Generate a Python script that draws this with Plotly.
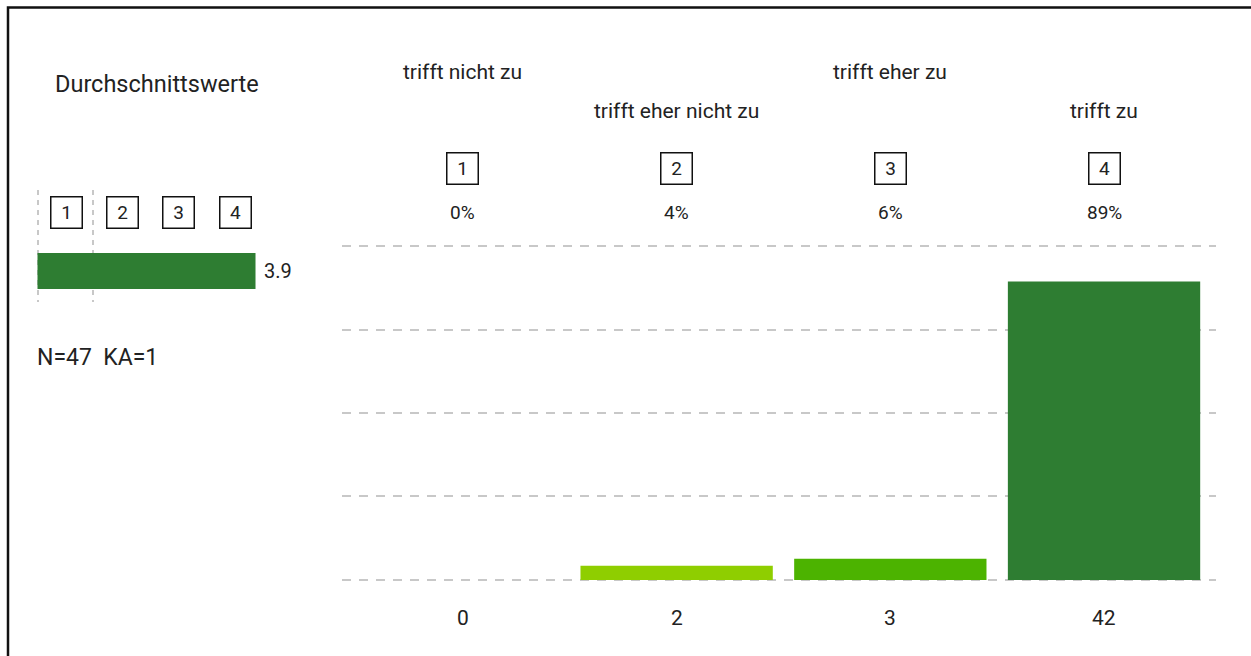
import plotly.graph_objects as go

# ---- data ----
categories = ["trifft nicht zu", "trifft eher nicht zu", "trifft eher zu", "trifft zu"]
scale_values = ["1", "2", "3", "4"]
counts = [0, 2, 3, 42]
bar_colors = ["#8fce00", "#8fce00", "#4cb300", "#2e7d32"]
mean_value = 3.9
mean_color = "#2e7d32"
n_total = 47
ka_count = 1

W, H = 1251, 656
FONT = "Roboto"
TXT = "#222222"
GRID = "#c8c8c8"


def py(p):
    return 1 - p / H


def px(p):
    return p / W


total = sum(counts)
percents = [c / total * 100 for c in counts]
percent_labels = [f"{round(p)}%" for p in percents]
xs = list(range(len(categories)))

fig = go.Figure()

# main distribution bars
fig.add_trace(go.Bar(
    x=xs, y=percents, width=0.9,
    marker=dict(color=bar_colors, line=dict(width=0)),
    xaxis="x", yaxis="y", hoverinfo="skip", showlegend=False,
))

# mean bar (left panel)
fig.add_trace(go.Bar(
    x=[mean_value], y=[0.277], width=0.321, orientation="h",
    marker=dict(color=mean_color, line=dict(width=0)),
    xaxis="x2", yaxis="y2", hoverinfo="skip", showlegend=False,
))

left_box_px = [66, 122, 178.5, 235.5]

ann = []
for i, lab in enumerate(categories):
    ann.append(dict(x=i, xref="x", y=py(72 if i % 2 == 0 else 111), yref="paper",
                    text=lab, showarrow=False, xanchor="center", yanchor="middle",
                    font=dict(family=FONT, size=21, color=TXT)))
    ann.append(dict(x=i, xref="x", y=py(168), yref="paper",
                    text=scale_values[i], showarrow=False, xanchor="center", yanchor="middle",
                    width=30, height=30, borderpad=0, bordercolor="#111", borderwidth=1.5,
                    font=dict(family=FONT, size=19, color=TXT)))
    ann.append(dict(x=i, xref="x", y=py(212), yref="paper",
                    text=percent_labels[i], showarrow=False, xanchor="center", yanchor="middle",
                    font=dict(family=FONT, size=19, color=TXT)))
    ann.append(dict(x=i, xref="x", y=py(618), yref="paper",
                    text=str(counts[i]), showarrow=False, xanchor="center", yanchor="middle",
                    font=dict(family=FONT, size=21, color=TXT)))
    ann.append(dict(x=px(left_box_px[i]), xref="paper", y=py(212), yref="paper",
                    text=scale_values[i], showarrow=False, xanchor="center", yanchor="middle",
                    width=30, height=30, borderpad=0, bordercolor="#111", borderwidth=1.5,
                    font=dict(family=FONT, size=19, color=TXT)))

ann.append(dict(x=mean_value, xref="x2", xshift=6, y=0.277, yref="y2",
                text=f"{mean_value:.1f}", showarrow=False, xanchor="left", yanchor="middle",
                font=dict(family=FONT, size=20, color=TXT)))
ann.append(dict(x=px(157), xref="paper", y=py(84), yref="paper", text="Durchschnittswerte",
                showarrow=False, xanchor="center", yanchor="middle",
                font=dict(family=FONT, size=23.5, color=TXT)))
ann.append(dict(x=px(35), xref="paper", y=py(357), yref="paper",
                text=f"N={n_total}&nbsp;&nbsp;KA={ka_count}",
                showarrow=False, xanchor="left", yanchor="middle",
                font=dict(family=FONT, size=23, color=TXT)))

x_lo, x_hi = -0.566, 3.524
y_lo, y_hi = -1, 101
mini_lo, mini_hi = -0.05, 4.0

fig.update_layout(
    width=W, height=H, margin=dict(l=0, r=0, t=0, b=0),
    paper_bgcolor="white", plot_bgcolor="white",
    bargap=0.1,
    xaxis=dict(domain=[px(342), px(1216)], range=[x_lo, x_hi], showgrid=False,
               zeroline=False, showticklabels=False, ticks="", showline=False),
    yaxis=dict(domain=[py(583.3), py(242.7)], range=[y_lo, y_hi],
               tickvals=[0, 25, 50, 75, 100], showgrid=True, gridcolor=GRID,
               gridwidth=2, griddash="9px,8px", zeroline=False,
               showticklabels=False, ticks="", showline=False),
    xaxis2=dict(domain=[px(34.7), px(261.1)], range=[mini_lo, mini_hi],
                tickvals=[0, 1], showgrid=True, gridcolor=GRID, gridwidth=1.5,
                griddash="5px,5px", zeroline=False, showticklabels=False,
                ticks="", showline=False, anchor="y2"),
    yaxis2=dict(domain=[py(302), py(190)], range=[0, 1], showgrid=False,
                zeroline=False, showticklabels=False, ticks="", showline=False,
                anchor="x2"),
    annotations=ann,
    shapes=[dict(type="rect", xref="paper", yref="paper",
                 x0=px(8), x1=1.02, y0=-0.02, y1=py(7.5),
                 line=dict(color="#111", width=2.5), fillcolor="rgba(0,0,0,0)",
                 layer="above")],
    hovermode=False,
)

fig.write_html("out.html")
